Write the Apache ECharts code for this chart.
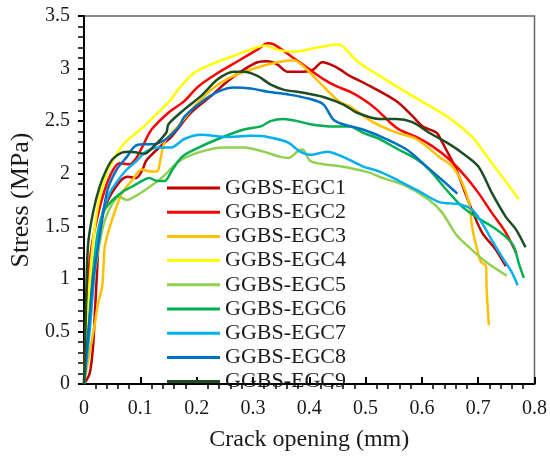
<!DOCTYPE html>
<html>
<head>
<meta charset="utf-8">
<script src="https://cdn.jsdelivr.net/npm/echarts@6/dist/echarts.min.js"></script>
<style>
  html, body { margin: 0; padding: 0; background: #fff; }
  #chart { width: 550px; height: 457px; }
</style>
</head>
<body>
<div id="chart"></div>
<script>
// crack opening (mm) vs stress (MPa)
var names = ['GGBS-EGC1', 'GGBS-EGC2', 'GGBS-EGC3', 'GGBS-EGC4', 'GGBS-EGC5',
             'GGBS-EGC6', 'GGBS-EGC7', 'GGBS-EGC8', 'GGBS-EGC9'];
var colors = ['#C00000', '#FF0000', '#FFC000', '#FFFF00', '#92D050',
              '#00B050', '#00B0F0', '#0070C0', '#1E4D22'];

var egc1 = [[0,0],[0.01,0.1],[0.016,0.35],[0.019,0.64],[0.023,1.05],[0.028,1.47],[0.04,1.72],[0.063,1.92],
  [0.078,1.97],[0.093,1.96],[0.104,2.04],[0.11,2.12],[0.12,2.18],[0.14,2.28],[0.155,2.35],[0.19,2.58],
  [0.226,2.74],[0.255,2.88],[0.284,2.99],[0.308,3.06],[0.326,3.07],[0.343,3.04],[0.361,2.97],[0.39,2.97],
  [0.407,2.99],[0.423,3.06],[0.449,3.01],[0.472,2.93],[0.495,2.87],[0.555,2.69],[0.583,2.55],[0.601,2.45],
  [0.626,2.39],[0.636,2.30],[0.643,2.23],[0.661,2.04],[0.684,1.72],[0.707,1.44],[0.731,1.28],[0.749,1.12]];
var egc2 = [[0,0],[0.002,0.4],[0.007,0.99],[0.012,1.25],[0.019,1.47],[0.033,1.78],[0.049,2.01],[0.063,2.10],
  [0.081,2.09],[0.093,2.15],[0.104,2.26],[0.12,2.42],[0.15,2.58],[0.178,2.69],[0.203,2.83],[0.238,2.96],
  [0.273,3.07],[0.308,3.18],[0.326,3.24],[0.337,3.23],[0.367,3.12],[0.396,3.01],[0.425,2.90],[0.449,2.83],
  [0.472,2.78],[0.495,2.71],[0.52,2.61],[0.543,2.49],[0.56,2.42],[0.59,2.35],[0.619,2.26],[0.648,2.14],
  [0.678,1.97],[0.70,1.82],[0.724,1.63],[0.749,1.44],[0.768,1.24]];
var egc3 = [[0,0],[0.01,0.3],[0.02,0.6],[0.025,0.77],[0.032,0.92],[0.035,1.15],[0.037,1.31],[0.046,1.50],
  [0.058,1.69],[0.069,1.83],[0.086,1.94],[0.102,2.04],[0.12,2.02],[0.129,2.02],[0.143,2.30],[0.167,2.45],
  [0.196,2.64],[0.231,2.82],[0.266,2.93],[0.308,3.01],[0.343,3.06],[0.372,3.08],[0.39,3.02],[0.425,2.83],
  [0.455,2.68],[0.472,2.64],[0.513,2.49],[0.555,2.39],[0.59,2.33],[0.631,2.16],[0.654,2.07],[0.671,1.92],
  [0.684,1.72],[0.689,1.50],[0.698,1.28],[0.705,1.16],[0.714,1.12],[0.715,0.90],[0.719,0.56]];
var egc4 = [[0,0],[0.008,0.8],[0.015,1.3],[0.025,1.7],[0.04,2.0],[0.051,2.12],[0.07,2.28],[0.10,2.42],
  [0.12,2.52],[0.155,2.71],[0.167,2.80],[0.196,2.96],[0.226,3.04],[0.26,3.11],[0.296,3.18],[0.32,3.22],
  [0.343,3.18],[0.372,3.16],[0.414,3.20],[0.449,3.23],[0.46,3.21],[0.485,3.07],[0.525,2.93],[0.583,2.74],
  [0.643,2.55],[0.689,2.35],[0.719,2.14],[0.772,1.76]];
var egc5 = [[0,0],[0.01,0.6],[0.02,1.1],[0.03,1.4],[0.037,1.56],[0.051,1.72],[0.063,1.78],[0.076,1.75],
  [0.086,1.77],[0.11,1.85],[0.14,1.97],[0.169,2.12],[0.208,2.21],[0.249,2.25],[0.284,2.25],[0.319,2.21],
  [0.349,2.16],[0.363,2.15],[0.379,2.21],[0.388,2.23],[0.402,2.12],[0.425,2.09],[0.455,2.07],[0.507,2.01],
  [0.525,1.97],[0.573,1.88],[0.613,1.75],[0.636,1.63],[0.661,1.42],[0.684,1.30],[0.714,1.16],[0.751,1.03]];
var egc6 = [[0,0],[0.008,0.5],[0.015,1.0],[0.022,1.35],[0.028,1.53],[0.037,1.66],[0.051,1.75],[0.069,1.83],
  [0.093,1.90],[0.116,1.96],[0.13,1.93],[0.143,1.93],[0.157,2.04],[0.174,2.16],[0.196,2.23],[0.238,2.33],
  [0.284,2.42],[0.314,2.45],[0.331,2.50],[0.354,2.52],[0.379,2.50],[0.402,2.47],[0.437,2.45],[0.472,2.45],
  [0.495,2.39],[0.525,2.33],[0.555,2.24],[0.59,2.14],[0.613,2.04],[0.643,1.85],[0.671,1.69],[0.696,1.59],
  [0.724,1.50],[0.749,1.40],[0.763,1.31],[0.772,1.15],[0.781,1.01]];
var egc7 = [[0,0],[0.01,0.5],[0.016,0.9],[0.023,1.31],[0.033,1.63],[0.046,1.82],[0.058,1.92],[0.076,2.04],
  [0.093,2.12],[0.11,2.21],[0.134,2.25],[0.155,2.25],[0.178,2.33],[0.208,2.37],[0.249,2.35],[0.296,2.36],
  [0.326,2.35],[0.361,2.30],[0.384,2.21],[0.402,2.18],[0.432,2.21],[0.46,2.16],[0.495,2.07],[0.525,2.02],
  [0.56,1.93],[0.596,1.83],[0.631,1.73],[0.666,1.71],[0.689,1.66],[0.707,1.53],[0.724,1.37],[0.742,1.21],
  [0.76,1.06],[0.77,0.94]];
var egc8 = [[0,0],[0.008,0.5],[0.016,0.99],[0.025,1.31],[0.033,1.59],[0.042,1.85],[0.058,2.04],[0.076,2.16],
  [0.09,2.26],[0.104,2.28],[0.122,2.28],[0.146,2.33],[0.169,2.45],[0.178,2.54],[0.208,2.68],[0.238,2.78],
  [0.266,2.82],[0.296,2.81],[0.326,2.78],[0.367,2.75],[0.402,2.71],[0.425,2.66],[0.442,2.52],[0.46,2.47],
  [0.495,2.42],[0.537,2.33],[0.573,2.23],[0.608,2.07],[0.636,1.94],[0.663,1.81]];
var egc9 = [[0,0],[0.003,0.6],[0.007,1.31],[0.016,1.63],[0.028,1.88],[0.04,2.04],[0.051,2.14],[0.067,2.20],
  [0.081,2.21],[0.095,2.20],[0.107,2.19],[0.122,2.25],[0.146,2.39],[0.15,2.47],[0.178,2.61],[0.208,2.74],
  [0.238,2.90],[0.266,2.97],[0.284,2.97],[0.308,2.93],[0.331,2.85],[0.354,2.80],[0.39,2.77],[0.425,2.73],
  [0.46,2.66],[0.485,2.58],[0.525,2.52],[0.555,2.52],[0.583,2.49],[0.613,2.39],[0.643,2.30],[0.671,2.20],
  [0.70,2.07],[0.724,1.82],[0.749,1.59],[0.767,1.47],[0.784,1.30]];
var allData = [egc1, egc2, egc3, egc4, egc5, egc6, egc7, egc8, egc9];

var font = 'Liberation Serif';
var chart = echarts.init(document.getElementById('chart'));

var series = names.map(function (n, i) {
  return {
    name: n,
    type: 'line',
    data: allData[i],
    symbol: 'none',
    smooth: 0.3,
    lineStyle: { color: colors[i], width: 2.5 },
    itemStyle: { color: colors[i] }
  };
});

option = {
  animation: false,
  backgroundColor: '#fff',
  grid: { left: 82, right: 14, top: 16, bottom: 73, show: true, borderColor: '#666', borderWidth: 1.5 },
  legend: {
    orient: 'vertical',
    left: 162,
    top: 172,
    data: names,
    icon: 'rect',
    itemWidth: 53,
    itemHeight: 3,
    itemGap: 2.2,
    textStyle: { fontFamily: font, fontSize: 22, lineHeight: 22, color: '#1a1a1a' }
  },
  xAxis: {
    type: 'value',
    min: 0, max: 0.8, interval: 0.1,
    name: 'Crack opening (mm)',
    nameLocation: 'middle',
    nameGap: 44,
    nameTextStyle: { fontFamily: font, fontSize: 24, color: '#1a1a1a' },
    axisLine: { lineStyle: { color: '#000', width: 2 } },
    axisTick: { inside: false, length: -7, lineStyle: { color: '#000', width: 2 } },
    minorTick: { show: true, splitNumber: 5, length: 5, lineStyle: { color: '#000', width: 1.5 } },
    axisLabel: { fontFamily: font, fontSize: 20, color: '#1a1a1a', margin: 15 },
    splitLine: { show: false }
  },
  yAxis: {
    type: 'value',
    min: 0, max: 3.5, interval: 0.5,
    name: 'Stress (MPa)',
    nameLocation: 'middle',
    nameGap: 50,
    nameTextStyle: { fontFamily: font, fontSize: 26, color: '#1a1a1a' },
    axisLine: { lineStyle: { color: '#000', width: 2 } },
    axisTick: { length: 6, lineStyle: { color: '#000', width: 2 } },
    minorTick: { show: true, splitNumber: 5, length: 6, lineStyle: { color: '#000', width: 1.5 } },
    axisLabel: { fontFamily: font, fontSize: 20, color: '#1a1a1a', margin: 14 },
    splitLine: { show: false }
  },
  series: series
};
chart.setOption(option);
</script>
</body>
</html>
